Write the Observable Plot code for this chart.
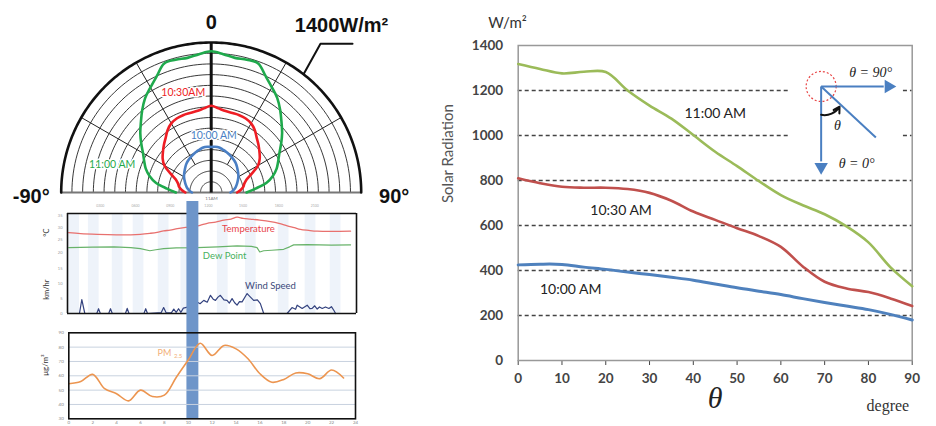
<!DOCTYPE html>
<html><head><meta charset="utf-8">
<script src="https://cdn.jsdelivr.net/npm/d3@7"></script>
<script src="https://cdn.jsdelivr.net/npm/@observablehq/plot@0.6"></script>
<style>
html,body{margin:0;padding:0;background:#fff;overflow:hidden;}
#wrap{position:relative;width:936px;height:426px;overflow:hidden;font-family:Lato,sans-serif;}
#wrap > svg{position:absolute;}
</style></head><body><div id="wrap"></div>
<script>
// ---------- data: solar radiation vs. angle ----------
const thetaDeg = [0,5,10,15,20,25,30,35,40,45,50,55,60,65,70,75,80,85,90];
const rad1100 = [1318,1296,1276,1283,1282,1200,1133,1075,1002,928,864,797,735,690,650,596,525,415,330];
const rad1030 = [810,788,772,768,768,762,745,710,662,625,588,553,505,418,350,320,304,276,242];
const rad1000 = [425,428,427,415,405,393,382,370,357,340,323,308,293,275,258,242,226,205,180];
const seriesNames = ["11:00 AM","10:30 AM","10:00 AM"];
const polarNames = ["11:00 AM","10:30AM","10:00 AM"];
const yTicksRight = [0,200,400,600,800,1000,1200,1400];
const xTicksRight = [0,10,20,30,40,50,60,70,80,90];
const gridValues = [200,400,600,800,1000,1200];

// ---------- data: weather panel (hour of day) ----------
const tempHour = [0,1,2.4,4,5.2,6.0,6.8,7.4,7.95,8.5,9.1,9.8,10.5,11.0,11.6,12.3,13.0,13.6,14.1,14.6,15.2,16.0,16.9,17.6,18.3,18.9,19.4,20.1,20.8,22.0,23.6];
const tempC   = [28.0,27.6,27.3,27.1,27.1,27.3,27.7,28.1,28.7,29.0,29.6,30.1,30.5,31.0,31.8,32.3,33.1,33.5,34.3,33.8,33.5,33.1,32.5,31.8,30.8,30.0,29.3,28.9,28.6,28.5,28.6];
const dewHour = [0,2,3.8,5.2,6.0,6.8,7.3,7.95,9,10.75,12.5,14.1,15.3,15.77,16.0,16.33,17.0,18.0,18.5,18.84,20,22,23.6];
const dewC    = [21.9,22.1,22.2,21.9,21.5,20.6,21.0,21.5,21.8,21.9,22.2,22.6,22.4,21.9,20.1,20.6,20.8,21.2,22.2,23.0,23.1,22.9,23.0];
const windHour = [0,0.9,1.1,1.35,2.35,2.5,2.65,3.35,3.5,3.65,4.75,4.9,5.05,6.3,6.45,6.6,7.75,7.95,8.15,8.6,8.8,9.0,9.2,9.4,9.6,10.3,10.75,11.0,11.31,11.6,11.87,12.1,12.29,12.5,12.7,13.0,13.26,13.45,13.68,13.9,14.1,14.3,14.52,14.94,15.2,15.49,15.8,16.05,16.33,18.29,18.7,19.0,19.13,19.55,19.97,20.2,20.39,20.6,20.81,21.0,21.23,21.5,21.79,22.0,22.21,22.35];
const windKmh  = [0,0,4.7,0,0,1.6,0,0,1.6,0,0,1.7,0,0,1.6,0,0.3,2.0,0.3,0.2,1.5,0.4,1.6,0.4,1.8,2.5,3.9,3.3,4.4,3.8,6.1,4.8,4.4,5.5,6.1,4.6,4.4,3.5,5.0,3.6,2.8,4.0,3.9,6.7,5.6,4.4,4.6,3.3,0,0,2.0,1.4,2.8,1.7,2.8,1.6,1.7,2.6,1.5,2.2,1.7,2.2,1.7,2.3,1.0,0];
const stripeStart = [0,1.65,3.65,5.4,7.5,9.4,12.45,14.8,17.55,19.8,21.9];
const topHourLabels = ["0300","0600","0900","1200","1500","1800","2100"];
const topHourPos = [2.65,5.6,8.5,11.7,14.6,17.6,20.6];
const tempTicks = [20,25,30,35];
const windTicks = [0,5,10,15];
const bandHours = [9.9,10.9];

// ---------- data: PM2.5 ----------
const pmHour = [0,1,2,3,4,5,6,7,8,9,10,11,12,13,14,15,16,17,18,19,20,21,22,23];
const pm25   = [54.5,56,61,51,47.5,42.5,50,45.5,46.5,59,71,82.7,74.2,81.2,78.8,71.9,61.4,55.5,57.5,62,61.4,58,64,58.5];
const pmTicks = [30,40,50,60,70,80,90];
const pmXTicks = [0,2,4,6,8,10,12,14,16,18,20,22,24];

const wrap = document.getElementById("wrap");
function place(svg, left, top){ svg.style.left = left+"px"; svg.style.top = top+"px"; wrap.appendChild(svg); }

const colR = {g:"#9bbb59", r:"#c0504d", b:"#4f81bd"};
const colP = {g:"#1fa94c", r:"#ee1d24", b:"#4a7fc4"};

// ---------- polar chart ----------
const deg = Math.PI/180;
function polarPts(vals){
  const out = [];
  for (let i = thetaDeg.length-1; i > 0; i--) out.push({a:-thetaDeg[i], r:vals[i]});
  for (let i = 0; i < thetaDeg.length; i++) out.push({a:thetaDeg[i], r:vals[i]});
  return out;
}
const PX = d => d.r*Math.sin(d.a*deg), PY = d => d.r*Math.cos(d.a*deg);
const ringPts = d3.range(100,1400,100).flatMap(r => d3.range(-90,90.01,2).map(a => ({a,r})));
const outerPts = d3.range(-90,90.01,1).map(a => ({a, r:1400}));
const spokes = [-60,-30,30,60];
const leader = [{a:38,r:1400},{x:1020,y:1388},{x:1319,y:1388}].map(d => d.a!==undefined ? {x:PX(d),y:PY(d)} : d);
const halo = {stroke:"white", strokeWidth:3};

place(Plot.plot({
  width:420, height:205, marginLeft:60.7, marginRight:59.3, marginTop:42, marginBottom:13,
  x:{domain:[-1400,1400], axis:null}, y:{domain:[0,1400], axis:null},
  style:{background:"transparent", overflow:"visible", fontFamily:"Lato, sans-serif"},
  marks:[
    Plot.line(ringPts, {x:PX, y:PY, z:"r", stroke:"#222", strokeWidth:0.9}),
    Plot.link(spokes, {x1:a=>300*Math.sin(a*deg), y1:a=>300*Math.cos(a*deg), x2:a=>1400*Math.sin(a*deg), y2:a=>1400*Math.cos(a*deg), stroke:"#222", strokeWidth:1}),
    Plot.ruleY([0], {x1:-1400, x2:1400, stroke:"#777", strokeWidth:2}),
    Plot.line(outerPts, {x:PX, y:PY, stroke:"#111", strokeWidth:2.6}),
    Plot.link([0], {x1:0, y1:0, x2:0, y2:1400, stroke:"#111", strokeWidth:3}),
    Plot.line(polarPts(rad1100), {x:PX, y:PY, stroke:colP.g, strokeWidth:2.6, curve:"catmull-rom"}),
    Plot.line(polarPts(rad1030), {x:PX, y:PY, stroke:colP.r, strokeWidth:2.6, curve:"catmull-rom"}),
    Plot.line(polarPts(rad1000), {x:PX, y:PY, stroke:colP.b, strokeWidth:2.6, curve:"catmull-rom"}),
    Plot.text([polarNames[1]], {x:-261, y:936, fill:colP.r, fontSize:10.5, ...halo}),
    Plot.text([polarNames[2]], {x:24, y:532, fill:colP.b, fontSize:10.5, ...halo}),
    Plot.text([polarNames[0]], {x:-924, y:261, fill:colP.g, fontSize:10.5, ...halo}),
    Plot.line(leader, {x:"x", y:"y", stroke:"#111", strokeWidth:2}),
    Plot.text(["1400W/m²"], {x:1216, y:1559, fontSize:20, fontWeight:"bold", fontFamily:"Liberation Sans, Arial, sans-serif", fill:"#111"}),
    Plot.text(["0"], {x:0, y:1400, dy:-20, fontSize:20, fontWeight:"bold", fontFamily:"Liberation Sans, Arial, sans-serif", fill:"#111"}),
    Plot.text(["-90°"], {x:-1400, y:0, dx:-30, dy:4, fontSize:20, fontWeight:"bold", fontFamily:"Liberation Sans, Arial, sans-serif", fill:"#111"}),
    Plot.text(["90°"], {x:1400, y:0, dx:33, dy:4, fontSize:20, fontWeight:"bold", fontFamily:"Liberation Sans, Arial, sans-serif", fill:"#111"}),
    Plot.text(["11AM"], {x:3, y:-56, fontSize:4.5, fill:"#777"})
  ]
}), 0, 0);

// ---------- weather: temperature & dew point ----------
const temp = tempHour.map((h,i) => ({h, v:tempC[i]}));
const dew = dewHour.map((h,i) => ({h, v:dewC[i]}));
const wind = windHour.map((h,i) => ({h, v:windKmh[i]}));
const xW = {domain:[-0.1,24.1], axis:null};
const stripeFill = "#eef3fa";
place(Plot.plot({
  width:420, height:65, marginLeft:67, marginRight:64, marginTop:15, marginBottom:0,
  x:xW, y:{domain:[15.4,35.8], axis:null},
  style:{background:"transparent", overflow:"visible", fontFamily:"Lato, sans-serif"},
  marks:[
    Plot.rect(stripeStart, {x1:d=>d, x2:d=>d+0.9, y1:15.4, y2:35.8, fill:stripeFill}),
    Plot.line(temp, {x:"h", y:"v", stroke:"#e8706e", strokeWidth:1.3, curve:"catmull-rom"}),
    Plot.line(dew, {x:"h", y:"v", stroke:"#68b36a", strokeWidth:1.2}),
    Plot.text(["Temperature"], {x:15.05, y:29.6, fill:"#e8444a", fontSize:9.5}),
    Plot.text(["Dew Point"], {x:13.06, y:18.65, fill:"#48b060", fontSize:9.5}),
    Plot.ruleY([35.8], {stroke:"#111", strokeWidth:1.6}),
    Plot.ruleX([-0.1,24.1], {stroke:"#111", strokeWidth:1.6}),
    Plot.text(tempTicks, {x:-0.1, y:d=>d, text:d=>String(d), dx:-5, textAnchor:"end", fontSize:4, fill:"#999"}),
    Plot.text(topHourLabels, {x:(d,i)=>topHourPos[i], y:35.8, dy:-8, fontSize:3.5, fill:"#aaa"}),
    Plot.text(["°C"], {x:-0.1, y:28, dx:-21, rotate:-90, fontSize:7.5, fill:"#333"})
  ]
}), 0, 198);

// ---------- weather: wind speed ----------
place(Plot.plot({
  width:420, height:58, marginLeft:67, marginRight:64, marginTop:0, marginBottom:8,
  x:xW, y:{domain:[0,16.8], axis:null},
  style:{background:"transparent", overflow:"visible", fontFamily:"Lato, sans-serif"},
  marks:[
    Plot.rect(stripeStart, {x1:d=>d, x2:d=>d+0.9, y1:0, y2:16.8, fill:stripeFill}),
    Plot.line(wind, {x:"h", y:"v", stroke:"#34437f", strokeWidth:1.2}),
    Plot.text(["Wind Speed"], {x:16.9, y:9.4, fill:"#3d4a7a", fontSize:9.5}),
    Plot.ruleY([0], {stroke:"#111", strokeWidth:1.6}),
    Plot.ruleX([-0.1,24.1], {stroke:"#111", strokeWidth:1.6}),
    Plot.text(windTicks, {x:-0.1, y:d=>d, text:d=>String(d), dx:-5, textAnchor:"end", fontSize:4, fill:"#999"}),
    Plot.text(["km/hr"], {x:-0.1, y:8, dx:-21, rotate:-90, fontSize:7.5, fill:"#333"})
  ]
}), 0, 263);

// ---------- highlighted hour band ----------
place(Plot.plot({
  width:420, height:218, marginLeft:67, marginRight:64, marginTop:0, marginBottom:0,
  x:xW, y:{domain:[0,1], axis:null},
  style:{background:"transparent", overflow:"visible"},
  marks:[ Plot.rect([bandHours], {x1:d=>d[0], x2:d=>d[1], y1:0, y2:1, fill:"#6e95c9"}) ]
}), 0, 201);

// ---------- PM2.5 ----------
const pm = pmHour.map((h,i) => ({h, v:pm25[i]}));
place(Plot.plot({
  width:420, height:104, marginLeft:68.3, marginRight:65, marginTop:10.3, marginBottom:7.7,
  x:{domain:[0,24], ticks:pmXTicks, tickSize:0, tickPadding:1.5, label:null},
  y:{domain:[30,90], ticks:pmTicks, tickSize:0, tickPadding:5, label:null},
  style:{background:"transparent", overflow:"visible", fontFamily:"Lato, sans-serif", fontSize:"4.5px", color:"#888"},
  marks:[
    Plot.ruleY([40,50,60,70,80], {stroke:"#c8d2df", strokeWidth:1}),
    Plot.line(pm, {x:"h", y:"v", stroke:"#ec9550", strokeWidth:1.6, curve:"catmull-rom"}),
    Plot.text(["PM"], {x:8.0, y:75.6, fill:"#f2b079", fontSize:9}),
    Plot.text(["2.5"], {x:9.15, y:73.5, fill:"#f2b079", fontSize:6}),
    Plot.frame({stroke:"#111", strokeWidth:1.6}),
    Plot.text(["μg/m³"], {frameAnchor:"left", dx:-23, rotate:-90, fontSize:8, fill:"#333"})
  ]
}), 0, 322);

// ---------- right chart ----------
const rows = thetaDeg.flatMap((t,i) => [
  {t, v:rad1100[i], s:seriesNames[0]}, {t, v:rad1030[i], s:seriesNames[1]}, {t, v:rad1000[i], s:seriesNames[2]}
]);
const insetGap = [62,88];
const gridSegs = gridValues.flatMap(v => v >= 1000 ? [{v,a:0,b:insetGap[0]},{v,a:insetGap[1],b:90}] : [{v,a:0,b:90}]);
const labelTheta = [45,23.5,12], labelValue = [1098,667,316];
const insetC = {t:69.2, v:1218};
const blue = "#4a7fc1";
place(Plot.plot({
  width:516, height:426, marginLeft:97.7, marginRight:24.3, marginTop:45, marginBottom:66,
  x:{domain:[0,90], ticks:xTicksRight, tickSize:5, tickPadding:8, label:null, tickFormat:d=>String(d)},
  y:{domain:[0,1400], ticks:yTicksRight, tickSize:0, tickPadding:15, label:null, tickFormat:d=>String(d)},
  style:{background:"transparent", overflow:"visible", fontFamily:"Lato, sans-serif", fontSize:"13.5px", fontWeight:"bold", color:"#444"},
  marks:[
    Plot.ruleY(gridSegs, {y:"v", x1:"a", x2:"b", stroke:"#444", strokeWidth:1.3, strokeDasharray:"4,3"}),
    Plot.frame({stroke:"#999", strokeWidth:1.5}),
    Plot.line(rows.filter(d=>d.s===seriesNames[0]), {x:"t", y:"v", stroke:colR.g, strokeWidth:2.6, curve:"catmull-rom"}),
    Plot.line(rows.filter(d=>d.s===seriesNames[1]), {x:"t", y:"v", stroke:colR.r, strokeWidth:2.6, curve:"catmull-rom"}),
    Plot.line(rows.filter(d=>d.s===seriesNames[2]), {x:"t", y:"v", stroke:colR.b, strokeWidth:3, curve:"catmull-rom"}),
    Plot.text(seriesNames, {x:(d,i)=>labelTheta[i], y:(d,i)=>labelValue[i], fontSize:14, fontWeight:"normal", fill:"#222"}),
    // inset diagram
    Plot.dot([insetC], {x:"t", y:"v", r:15, stroke:"#e84545", strokeWidth:1.2, strokeDasharray:"2,2"}),
    Plot.link([insetC], {x1:"t", y1:"v", x2:83.5, y2:"v", stroke:blue, strokeWidth:2}),
    Plot.link([insetC], {x1:"t", y1:"v", x2:"t", y2:885, stroke:blue, strokeWidth:2}),
    Plot.link([insetC], {x1:"t", y1:"v", x2:81.7, y2:991, stroke:blue, strokeWidth:2}),
    Plot.dot([insetC], {x:84.6, y:"v", symbol:"triangle", rotate:90, r:5, fill:blue}),
    Plot.dot([insetC], {x:"t", y:860, symbol:"triangle", rotate:180, r:5, fill:blue}),
    Plot.arrow([insetC], {x1:"t", y1:1092, x2:73.4, y2:1128, bend:-35, stroke:"#111", strokeWidth:2, headLength:6}),
    Plot.text(["θ = 90°"], {x:80.5, y:1282, fontFamily:"Liberation Serif, serif", fontStyle:"italic", fontWeight:"normal", fontSize:14, fill:"#222"}),
    Plot.text(["θ = 0°"], {x:77.3, y:876, fontFamily:"Liberation Serif, serif", fontStyle:"italic", fontWeight:"normal", fontSize:14, fill:"#222"}),
    Plot.text(["θ"], {x:72.9, y:1044, fontFamily:"Liberation Serif, serif", fontStyle:"italic", fontWeight:"normal", fontSize:14, fill:"#222"}),
    // axis titles
    Plot.text(["W/m²"], {frameAnchor:"top-left", dx:-30, dy:-28, fontSize:15, fontWeight:"normal", fill:"#333"}),
    Plot.text(["Solar Radiation"], {frameAnchor:"left", dx:-70, rotate:-90, fontSize:15, fontWeight:"normal", fill:"#555"}),
    Plot.text(["θ"], {frameAnchor:"bottom", dy:47, fontFamily:"Liberation Serif, serif", fontStyle:"italic", fontWeight:"normal", fontSize:30, fill:"#222"}),
    Plot.text(["degree"], {frameAnchor:"bottom-right", dx:-3, dy:50, fontFamily:"Liberation Serif, serif", fontWeight:"normal", fontSize:16, fill:"#333"})
  ]
}), 420, 0);
</script></body></html>
